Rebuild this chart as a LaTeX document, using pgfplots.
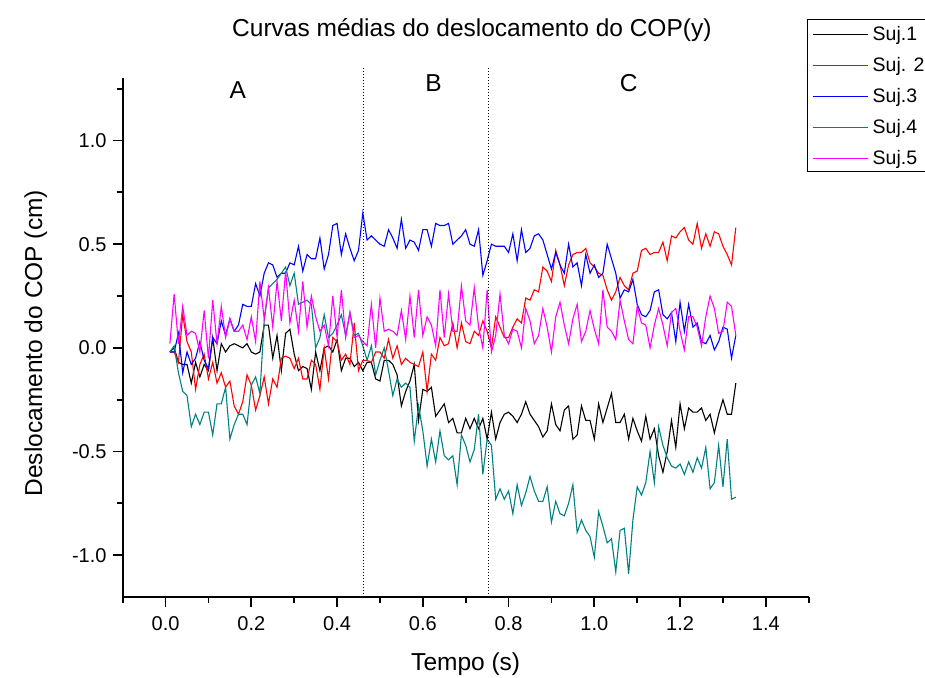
\documentclass[border=0pt]{standalone}
\usepackage{fontspec}
\setmainfont{Liberation Sans}
\usepackage{pgfplots}
\pgfplotsset{compat=1.18}
\usepackage{pgfplotstable}
\definecolor{cteal}{RGB}{0,128,128}
\definecolor{cmag}{RGB}{255,0,255}
\definecolor{cblue}{RGB}{0,0,255}
\definecolor{cred}{RGB}{255,0,0}
\pgfplotstableread{
t s1 s2 s3 s4 s5
0.01 -0.02 -0.02 -0.02 -0.02 0.02
0.02 0.00 -0.02 -0.02 0.01 0.26
0.03 -0.07 -0.07 0.07 -0.12 0.02
0.04 -0.08 0.16 -0.12 -0.21 0.20
0.05 -0.08 0.03 -0.02 -0.23 0.06
0.06 -0.17 -0.02 -0.08 -0.38 0.08
0.07 -0.07 -0.20 -0.05 -0.32 0.07
0.08 -0.14 -0.08 0.03 -0.37 -0.02
0.09 -0.08 -0.03 -0.06 -0.31 0.18
0.10 -0.11 -0.15 -0.10 -0.31 -0.05
0.11 0.05 -0.07 0.05 -0.42 0.23
0.12 -0.11 -0.17 0.02 -0.27 0.02
0.13 0.02 -0.12 0.13 -0.27 0.20
0.14 -0.02 -0.19 0.06 -0.19 0.05
0.15 0.01 -0.16 0.14 -0.44 0.14
0.16 0.02 -0.28 0.08 -0.37 0.08
0.17 0.01 -0.32 0.11 -0.32 0.08
0.18 0.00 -0.26 0.21 -0.32 0.11
0.19 0.02 -0.13 0.20 -0.37 0.04
0.20 -0.02 -0.18 0.20 -0.18 0.15
0.21 -0.03 -0.30 0.31 -0.14 0.03
0.22 -0.02 -0.23 0.25 -0.22 0.32
0.23 0.11 -0.14 0.36 0.13 0.14
0.24 0.11 -0.27 0.41 0.29 0.29
0.25 -0.05 -0.15 0.40 0.31 0.10
0.26 0.06 -0.19 0.34 0.33 0.32
0.27 -0.11 -0.05 0.36 0.36 0.13
0.28 0.07 -0.04 0.36 0.39 0.37
0.29 0.09 -0.05 0.41 0.30 0.12
0.30 -0.03 -0.10 0.40 0.36 0.23
0.31 -0.11 -0.05 0.49 0.21 0.08
0.32 -0.09 -0.15 0.37 0.22 0.32
0.33 -0.10 -0.15 0.45 0.23 0.10
0.34 -0.20 -0.06 0.43 0.21 0.25
0.35 -0.02 -0.08 0.43 0.00 0.15
0.36 -0.11 -0.20 0.53 0.05 0.08
0.37 0.00 0.00 0.38 0.16 0.11
0.38 0.01 -0.15 0.45 0.05 0.01
0.39 -0.02 0.05 0.59 0.07 0.25
0.40 0.04 0.03 0.60 0.11 0.05
0.41 -0.11 -0.06 0.45 0.16 0.28
0.42 -0.05 -0.03 0.55 0.06 0.05
0.43 -0.05 -0.08 0.48 0.17 0.17
0.44 -0.09 0.12 0.42 0.06 0.05
0.45 -0.07 -0.11 0.47 0.07 0.06
0.46 -0.11 -0.06 0.65 0.01 0.03
0.47 -0.07 -0.06 0.52 -0.06 0.01
0.48 -0.07 -0.07 0.54 0.01 0.21
0.49 -0.15 -0.02 0.52 -0.13 0.00
0.50 -0.16 -0.02 0.50 -0.06 0.24
0.51 -0.06 -0.05 0.49 0.00 0.08
0.52 -0.06 0.04 0.57 -0.11 0.09
0.53 -0.08 -0.05 0.53 -0.23 0.08
0.54 -0.13 0.01 0.48 -0.15 0.06
0.55 -0.28 -0.08 0.62 -0.19 0.18
0.56 -0.21 -0.05 0.48 -0.17 0.04
0.57 -0.16 -0.07 0.52 -0.19 0.25
0.58 -0.08 -0.08 0.51 -0.45 0.05
0.59 -0.35 -0.09 0.47 -0.28 0.28
0.60 -0.20 -0.02 0.57 -0.40 0.06
0.61 -0.21 -0.21 0.57 -0.57 0.15
0.62 -0.19 -0.03 0.49 -0.44 0.11
0.63 -0.33 -0.06 0.60 -0.55 0.01
0.64 -0.30 0.05 0.59 -0.40 0.28
0.65 -0.27 0.01 0.59 -0.52 0.05
0.66 -0.36 0.02 0.60 -0.54 0.26
0.67 -0.34 0.12 0.50 -0.52 0.08
0.68 -0.41 0.00 0.52 -0.66 0.08
0.69 -0.41 0.12 0.54 -0.42 0.30
0.70 -0.34 0.03 0.57 -0.47 0.13
0.71 -0.39 0.02 0.50 -0.55 0.11
0.72 -0.34 0.08 0.49 -0.49 0.29
0.73 -0.39 0.06 0.57 -0.32 0.10
0.74 -0.34 0.13 0.35 -0.61 0.00
0.75 -0.44 0.08 0.42 -0.44 0.28
0.76 -0.31 0.00 0.50 -0.47 -0.02
0.77 -0.44 0.15 0.49 -0.73 0.06
0.78 -0.36 0.10 0.49 -0.68 0.26
0.79 -0.32 0.05 0.49 -0.73 0.06
0.80 -0.31 0.05 0.46 -0.69 0.02
0.81 -0.33 0.10 0.55 -0.80 0.09
0.82 -0.36 0.14 0.42 -0.66 0.08
0.83 -0.32 0.12 0.57 -0.76 0.00
0.84 -0.26 0.24 0.46 -0.70 0.19
0.85 -0.32 0.23 0.48 -0.62 0.13
0.86 -0.35 0.28 0.54 -0.69 0.02
0.87 -0.38 0.27 0.55 -0.74 0.06
0.88 -0.43 0.39 0.52 -0.74 0.19
0.89 -0.40 0.37 0.45 -0.67 0.10
0.90 -0.27 0.32 0.38 -0.84 -0.02
0.91 -0.37 0.47 0.46 -0.74 0.15
0.92 -0.40 0.40 0.40 -0.80 0.22
0.93 -0.30 0.30 0.36 -0.81 0.11
0.94 -0.28 0.40 0.50 -0.75 0.02
0.95 -0.44 0.45 0.39 -0.66 0.14
0.96 -0.42 0.46 0.41 -0.89 0.21
0.97 -0.28 0.46 0.30 -0.83 0.03
0.98 -0.35 0.48 0.45 -0.88 0.08
0.99 -0.35 0.41 0.36 -0.91 0.18
1.00 -0.44 0.39 0.40 -1.01 0.09
1.01 -0.27 0.36 0.34 -0.79 0.02
1.02 -0.36 0.35 0.36 -0.86 0.28
1.03 -0.29 0.28 0.50 -0.94 0.10
1.04 -0.22 0.23 0.43 -0.92 0.08
1.05 -0.36 0.27 0.36 -1.08 0.04
1.06 -0.36 0.34 0.24 -0.88 0.23
1.07 -0.32 0.30 0.28 -0.87 0.13
1.08 -0.44 0.28 0.27 -1.09 0.04
1.09 -0.34 0.36 0.33 -0.83 0.02
1.10 -0.40 0.37 0.21 -0.67 0.20
1.11 -0.45 0.47 0.16 -0.71 0.12
1.12 -0.33 0.48 0.15 -0.65 0.11
1.13 -0.44 0.45 0.18 -0.50 0.00
1.14 -0.39 0.46 0.27 -0.65 0.11
1.15 -0.52 0.46 0.28 -0.38 0.19
1.16 -0.60 0.51 0.16 -0.47 0.11
1.17 -0.50 0.42 0.14 -0.53 0.01
1.18 -0.35 0.54 0.17 -0.57 0.17
1.19 -0.48 0.53 0.03 -0.58 0.19
1.20 -0.27 0.56 0.22 -0.56 0.08
1.21 -0.39 0.58 0.08 -0.61 -0.01
1.22 -0.29 0.52 0.21 -0.55 0.15
1.23 -0.31 0.50 0.10 -0.60 0.15
1.24 -0.31 0.60 0.12 -0.53 0.10
1.25 -0.29 0.48 0.03 -0.58 0.01
1.26 -0.35 0.55 0.02 -0.48 0.15
1.27 -0.32 0.49 0.06 -0.68 0.25
1.28 -0.41 0.56 -0.01 -0.65 0.19
1.29 -0.32 0.55 0.03 -0.47 0.07
1.30 -0.25 0.49 0.10 -0.67 0.08
1.31 -0.32 0.45 0.09 -0.44 0.22
1.32 -0.32 0.40 -0.05 -0.73 0.20
1.33 -0.17 0.58 0.06 -0.72 0.06
}\datatable

\begin{document}
\begin{tikzpicture}
\begin{axis}[
  at={(0pt,0pt)}, anchor=south west,
  scale only axis, width=686pt, height=518.4pt,
  xmin=-0.1, xmax=1.5, ymin=-1.2, ymax=1.3,
  axis x line*=bottom, axis y line*=left,
  axis line style={-, line width=1.8pt, black},
  tick align=outside,
  major tick length=10pt, minor tick length=6pt,
  tick style={black, line width=1.8pt},
  xtick={0,0.2,0.4,0.6,0.8,1.0,1.2,1.4},
  xticklabels={0.0,0.2,0.4,0.6,0.8,1.0,1.2,1.4},
  minor xtick={-0.1,0.1,0.3,0.5,0.7,0.9,1.1,1.3,1.5},
  ytick={-1,-0.5,0,0.5,1},
  yticklabels={-1.0,-0.5,0.0,0.5,1.0},
  minor ytick={-0.75,-0.25,0.25,0.75,1.25},
  xticklabel style={font=\fontsize{20}{24}\selectfont, inner sep=0pt, anchor=north, yshift=-10pt},
  yticklabel style={font=\fontsize{20}{24}\selectfont, inner sep=0pt, anchor=east, xshift=-6pt},
  clip=false,
  legend cell align=left,
  legend style={at={(0.998,1.115)}, anchor=north west, draw=black, line width=1pt, fill=white,
    inner xsep=4.4pt, inner ysep=7pt, font=\fontsize{19.5}{23}\selectfont, row sep=17pt,
    nodes={inner sep=0pt, text height=14pt, text depth=0pt},
    /tikz/every odd column/.append style={column sep=4.5pt}},
  legend image code/.code={\draw[#1, line width=1pt] (0pt,-1pt) -- (55pt,-1pt);},
]
\addplot[black, line width=1.1pt] table[x=t, y=s1] {\datatable};
\addlegendentry{Suj.1}
\addplot[cred, line width=1.1pt] table[x=t, y=s2] {\datatable};
\addlegendentry{Suj. 2}
\addplot[cblue, line width=1.1pt] table[x=t, y=s3] {\datatable};
\addlegendentry{Suj.3}
\addplot[cteal, line width=1.1pt] table[x=t, y=s4] {\datatable};
\addlegendentry{Suj.4}
\addplot[cmag, line width=1.1pt] table[x=t, y=s5] {\datatable};
\addlegendentry{Suj.5}
\addplot[black, line width=0.9pt, dash pattern=on 1pt off 2pt, forget plot] coordinates {(0.462,-1.2) (0.462,1.355)};
\addplot[black, line width=0.9pt, dash pattern=on 1pt off 2pt, forget plot] coordinates {(0.754,-1.2) (0.754,1.355)};
\node[anchor=base, font=\fontsize{24.5}{28}\selectfont] at (axis cs:0.1685,1.202) {A};
\node[anchor=base, font=\fontsize{24.5}{28}\selectfont] at (axis cs:0.625,1.236) {B};
\node[anchor=base, font=\fontsize{24.5}{28}\selectfont] at (axis cs:1.080,1.236) {C};
\node[anchor=base, font=\fontsize{24.5}{28}\selectfont] at (rel axis cs:0.509,1.0797) {Curvas médias do deslocamento do COP(y)};
\node[anchor=base, font=\fontsize{24.5}{28}\selectfont] at (rel axis cs:0.5,-0.1414) {Tempo (s)};
\node[anchor=base, rotate=90, font=\fontsize{24.5}{28}\selectfont] at (rel axis cs:-0.1176,0.489) {Deslocamento do COP (cm)};
\end{axis}
\pgfresetboundingbox
\path[use as bounding box] (-122.7pt,-80.3pt) rectangle (802.3pt,596.7pt);
\end{tikzpicture}
\end{document}
